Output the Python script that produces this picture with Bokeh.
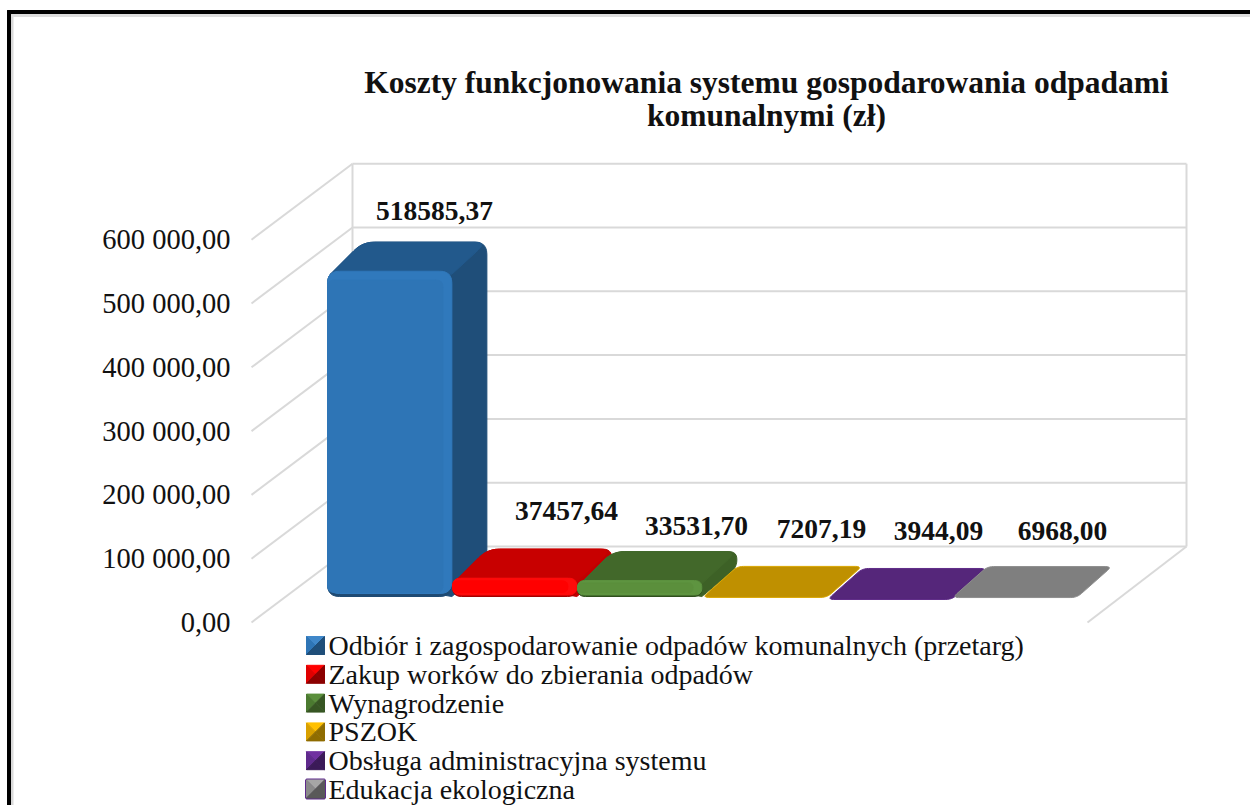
from bokeh.plotting import figure
from bokeh.models import LinearAxis, FixedTicker, Range1d
from bokeh.core.properties import value
from bokeh.embed import file_html
from bokeh.resources import INLINE
import math

title_lines = ["Koszty funkcjonowania systemu gospodarowania odpadami", "komunalnymi (zł)"]
categories = ["Odbiór i zagospodarowanie odpadów komunalnych (przetarg)",
              "Zakup worków do zbierania odpadów", "Wynagrodzenie", "PSZOK",
              "Obsługa administracyjna systemu", "Edukacja ekologiczna"]
values = [518585.37, 37457.64, 33531.70, 7207.19, 3944.09, 6968.00]
value_labels = ["518585,37", "37457,64", "33531,70", "7207,19", "3944,09", "6968,00"]
ticks = [0, 100000, 200000, 300000, 400000, 500000, 600000]
tick_labels = ["0,00", "100 000,00", "200 000,00", "300 000,00", "400 000,00", "500 000,00", "600 000,00"]

main_col = ["#2E75B6", "#FF0000", "#5B8F3C", "#BF9000", "#55267A", "#7F7F7F"]
rim_col = ["#3079BC", "#FF0A0A", "#5E9440", "#D9A600", "#5F2C88", "#8E8E8E"]
top_col = ["#22598C", "#C80000", "#42682A", "#BF9000", "#55267A", "#7F7F7F"]
side_col = ["#1F4E79", "#C00000", "#3D6126", "#BF9000", "#55267A", "#7F7F7F"]
dark_col = ["#1E4A73", "#A50000", "#2F4F1D", "#D9A600", "#5F2C88", "#8E8E8E"]
sw_light = ["#3F87C9", "#FF0000", "#5B8F3C", "#FFC000", "#7030A0", "#A6A6A6"]
sw_mid = ["#2E75B6", "#E00000", "#4B7A30", "#D9A000", "#5F2A8C", "#8A8A8A"]
sw_dark = ["#1F4E79", "#8B0000", "#375623", "#8F6C00", "#3B1A58", "#595959"]

# layout: scales and page anchors
W, H = 1250, 805
CANVAS_X, CANVAS_Y = 0, 0
SX = 125.0
SY = 63.8 / 100000
PAGE_X0, PAGE_Y0 = 327.0, 622.0


def PX(x):
    return (x - PAGE_X0) / SX


def PY(y):
    return (PAGE_Y0 - y) / SY


p = figure(width=W, height=H, output_backend="svg", toolbar_location=None,
           x_range=Range1d(PX(CANVAS_X), PX(CANVAS_X + W)), y_range=Range1d(PY(CANVAS_Y + H), PY(CANVAS_Y)),
           x_axis_location=None, y_axis_location=None, min_border=0,
           outline_line_color=None, background_fill_color="white", border_fill_color="white")
p.grid.visible = False

SERIF = value("Liberation Serif")

# outer frame
p.quad(left=PX(7), right=PX(11), bottom=PY(805), top=PY(10), color="#000000")
p.quad(left=PX(7), right=PX(1250), bottom=PY(14), top=PY(10), color="#000000")
p.quad(left=PX(11), right=PX(12.5), bottom=PY(805), top=PY(14), color="#D9D9D9")
p.quad(left=PX(11), right=PX(1250), bottom=PY(16), top=PY(14), color="#DDDDDD")

# walls
WALL_L, WALL_R = PX(352), PX(1186)
DX_W, DY_W = 101 / SX, 76 / SY
GRID = "#D9D9D9"
for t in ticks:
    p.line([WALL_L, WALL_R], [t + DY_W, t + DY_W], line_color=GRID, line_width=2)
    p.line([WALL_L - DX_W, WALL_L], [t, t + DY_W], line_color=GRID, line_width=2)
p.line([WALL_L, WALL_L], [DY_W, ticks[-1] + DY_W], line_color=GRID, line_width=2)
p.line([WALL_R, WALL_R], [DY_W, ticks[-1] + DY_W], line_color=GRID, line_width=2)
p.line([WALL_R - 99 / SX, WALL_R], [0, DY_W], line_color=GRID, line_width=2)

axis = LinearAxis(fixed_location=PX(240), ticker=FixedTicker(ticks=ticks),
                  major_label_overrides=dict(zip(ticks, tick_labels)),
                  axis_line_color=None, major_tick_line_color=None, minor_tick_line_color=None,
                  major_label_standoff=4, major_label_text_font="Liberation Serif",
                  major_label_text_font_size="28.5px", major_label_text_font_style="normal",
                  major_label_text_color="#111111")
p.add_layout(axis, "left")


def rounded(pts, radii):
    """Round polygon corners; pts are data coordinates, radii in page pixels per vertex."""
    P = [(x * SX, y * SY) for x, y in pts]
    xs, ys = [], []
    n = len(P)
    for k in range(n):
        a, b, c = P[k - 1], P[k], P[(k + 1) % n]
        la, lc = math.dist(a, b), math.dist(c, b)
        rr = min(radii[k], la / 2.01, lc / 2.01)
        if rr <= 0:
            xs.append(b[0] / SX)
            ys.append(b[1] / SY)
            continue
        s = ((b[0] + (a[0] - b[0]) * rr / la), (b[1] + (a[1] - b[1]) * rr / la))
        e = ((b[0] + (c[0] - b[0]) * rr / lc), (b[1] + (c[1] - b[1]) * rr / lc))
        for t in [j / 6 for j in range(7)]:
            xs.append(((1 - t) ** 2 * s[0] + 2 * t * (1 - t) * b[0] + t * t * e[0]) / SX)
            ys.append(((1 - t) ** 2 * s[1] + 2 * t * (1 - t) * b[1] + t * t * e[1]) / SY)
    return xs, ys


def face(pts, radii, color, line=None):
    xs, ys = rounded(pts, radii)
    p.patch(xs, ys, fill_color=color, line_color=line or color, line_width=1)


# bars
FLOOR = PY(601.5)
TRIM = 5.5 / SY
BAR_W = 0.995
DX, DY, DY_FLAT = 35 / SX, 29 / SY, 31 / SY
CUT = 3
for i, v in enumerate(values):
    x0, x1 = i, i + BAR_W
    top = FLOOR + v
    base = FLOOR + TRIM
    if top > base:
        h_px = (top - base) * SY
        r = 12
        # silhouette of top and side together, kept clear of the front's lower-left corner
        face([(x0 + CUT / SX, top - CUT / SY), (x0 + DX, top + DY), (x1 + DX, top + DY), (x1 + DX, base + DY),
              (x1, base), (x1 - 12 / SX, base + 2 / SY), (x0 + CUT / SX, base + 10 / SY)],
             [0, 12, 12, 8, 0, 0, 0], side_col[i])
        face([(x0 + CUT / SX, top - CUT / SY), (x0 + DX, top + DY), (x1 + DX, top + DY), (x1, top - CUT / SY)],
             [0, 12, 12, 0], top_col[i])
        face([(x0, top), (x1, top), (x1, base), (x0, base)], [r, r, r, r], dark_col[i])
        edge = 3 if h_px > 40 else 1.5
        face([(x0, top), (x1, top), (x1, base + edge / SY), (x0, base + edge / SY)], [r, r, r, r], rim_col[i])
        ins = min(9, h_px * 0.15)
        face([(x0, top - ins / SY), (x1 - 9 / SX, top - ins / SY), (x1 - 9 / SX, base + 4 / SY), (x0, base + 4 / SY)],
             [7, 7, 7, 7], main_col[i])
    else:
        face([(x0, top), (x1, top), (x1 + DX, top + DY_FLAT), (x0 + DX, top + DY_FLAT)], [6, 6, 6, 6],
             top_col[i], dark_col[i])

# value labels
label_cx = [434, 566, 696, 821, 938, 1062]
label_cy = [210, 510, 525, 528, 530, 530]
p.text([PX(x) for x in label_cx], [PY(y) for y in label_cy], text=value_labels,
       text_font=SERIF, text_font_style="bold", text_font_size="27.5px", text_color="#111111",
       text_align="center", text_baseline="middle")

# title
p.text([PX(766), PX(766)], [PY(82), PY(115)], text=title_lines,
       text_font=SERIF, text_font_style="bold", text_font_size="31.5px", text_color="#111111",
       text_align="center", text_baseline="middle")

# legend
LEG_Y = [645, 673.8, 702.6, 731.4, 760.2, 788.5]
for i, name in enumerate(categories):
    l, r, b, t, mx, my = PX(306), PX(324), PY(LEG_Y[i] + 9), PY(LEG_Y[i] - 9), PX(315), PY(LEG_Y[i])
    if i == 5:
        p.quad(left=l, right=r, bottom=b, top=t, fill_color=sw_mid[4], line_color=sw_mid[4], line_width=3)
    p.patch([l, r, mx], [t, t, my], fill_color=sw_light[i], line_color=sw_light[i])
    p.patch([l, l, mx], [t, b, my], fill_color=sw_mid[i], line_color=sw_mid[i])
    p.patch([r, r, mx], [t, b, my], fill_color=sw_dark[i], line_color=sw_dark[i])
    p.patch([l, r, mx], [b, b, my], fill_color=sw_dark[i], line_color=sw_dark[i])
p.text([PX(328)] * 6, [PY(y) for y in LEG_Y], text=categories,
       text_font=SERIF, text_font_size="28px", text_color="#111111",
       text_align="left", text_baseline="middle")

open("out.html", "w").write(file_html(p, INLINE))
